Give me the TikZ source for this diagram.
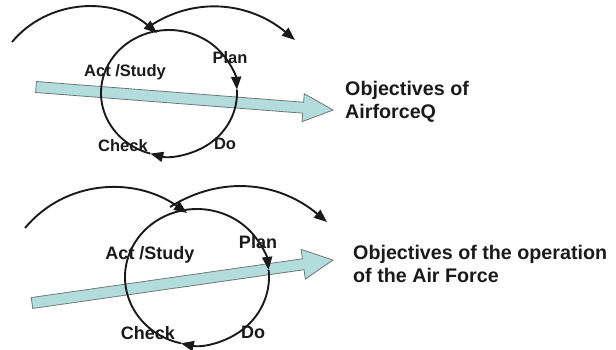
\documentclass[tikz,border=0pt]{standalone}
\usepackage{fontspec}
\setmainfont{Liberation Sans}
\usetikzlibrary{arrows.meta}

\definecolor{shaft}{HTML}{B3DCDC}
\definecolor{rim}{HTML}{6E7777}
\definecolor{ink}{HTML}{1A1A1A}

\tikzset{
  loop/.style={line width=1.9pt, draw=ink, -{Triangle[length=13pt,width=10pt]}},
  ring/.style={line width=1.9pt, draw=ink},
  lbl/.style={font=\bfseries\fontsize{16.5}{18}\selectfont, text=ink, inner sep=0pt},
  goal/.style={font=\bfseries\fontsize{19.7}{23}\selectfont, text=ink, align=left, anchor=west, inner sep=0pt},
  pipe/.style={fill=shaft, draw=rim, line width=0.8pt},
}

\begin{document}
\begin{tikzpicture}[x=1pt, y=1pt]
  \useasboundingbox (0,0) rectangle (616,349);
  % Upper cycle
  \coordinate (C1) at (169,256);
  % Wide arrow
  \begin{scope}[shift={(36,262)}, rotate=-4.43]
    \draw[pipe] (0,-5.5) -- (268,-5.5) -- (268,-14) -- (298,0) -- (268,14) -- (268,5.5) -- (0,5.5) -- cycle;
  \end{scope}
  % Arcs over the circle
  \coordinate (a1) at (12,307);
  \coordinate (b1) at (157,316);
  \coordinate (c1) at (147,321);
  \coordinate (d1) at (295,309);
  \draw[loop] (a1) to[out=50, in=140] (b1);
  \draw[loop] (c1) to[out=35, in=140] (d1);
  % Circle
  \draw[loop] (C1) ++(101:68 and 63) arc[start angle=101, end angle=3, x radius=68, y radius=63];
  \draw[loop] (C1) ++(3:68 and 63) arc[start angle=3, end angle=-106, x radius=68, y radius=63];
  \draw[ring] (C1) ++(-106:68 and 63) arc[start angle=-106, end angle=-259, x radius=68, y radius=63];
  % Labels
  \node[lbl] (act1) at (125,277) {Act /Study};
  \node[lbl] (plan1) at (230,291) {Plan};
  \node[lbl] (check1) at (123,203) {Check};
  \node[lbl] (do1) at (225,205) {Do};
  \node[goal] (goal1) at (345,247) {Objectives of\\AirforceQ};

  % Lower cycle
  \coordinate (C2) at (197,72);
  % Wide arrow
  \begin{scope}[shift={(32,46)}, rotate=8.13]
    \draw[pipe] (0,-5.5) -- (274,-5.5) -- (274,-15) -- (304,0) -- (274,15) -- (274,5.5) -- (0,5.5) -- cycle;
  \end{scope}
  % Arcs over the circle
  \coordinate (a2) at (25,121);
  \coordinate (b2) at (187,136);
  \coordinate (c2) at (170,142);
  \coordinate (d2) at (327,127);
  \draw[loop] (a2) to[out=50, in=145] (b2);
  \draw[loop] (c2) to[out=32, in=140] (d2);
  % Circle
  \draw[loop] (C2) ++(100:72 and 68) arc[start angle=100, end angle=6, x radius=72, y radius=68];
  \draw[loop] (C2) ++(6:72 and 68) arc[start angle=6, end angle=-103, x radius=72, y radius=68];
  \draw[ring] (C2) ++(-103:72 and 68) arc[start angle=-103, end angle=-260, x radius=72, y radius=68];
  % Labels
  \node[lbl, font=\bfseries\fontsize{18}{20}\selectfont] (act2) at (150,94) {Act /Study};
  \node[lbl, font=\bfseries\fontsize{18}{20}\selectfont] (plan2) at (258,107) {Plan};
  \node[lbl, font=\bfseries\fontsize{18}{20}\selectfont] (check2) at (148,16) {Check};
  \node[lbl, font=\bfseries\fontsize{18}{20}\selectfont] (do2) at (253,17) {Do};
  \node[goal] (goal2) at (353,85) {Objectives of the operation\\of the Air Force};
\end{tikzpicture}
\end{document}
